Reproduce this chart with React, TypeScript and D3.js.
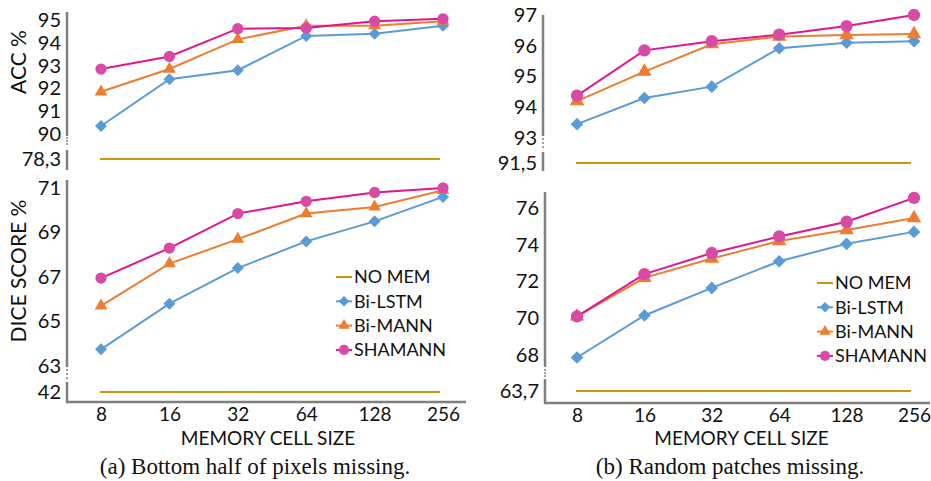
import React, { useEffect, useRef } from 'react';
import * as d3 from 'd3';

const memorySizes = ['8', '16', '32', '64', '128', '256'];
const seriesNames = ['NO MEM', 'Bi-LSTM', 'Bi-MANN', 'SHAMANN'];

// (a) bottom half of pixels missing
const accBottomNoMem = 78.3;
const accBottomLstm = [90.35, 92.4, 92.8, 94.3, 94.4, 94.75];
const accBottomMann = [91.85, 92.85, 94.15, 94.75, 94.75, 94.95];
const accBottomShamann = [92.85, 93.4, 94.62, 94.65, 94.95, 95.05];
const accBottomTicks = [78.3, 90, 91, 92, 93, 94, 95];

const diceBottomNoMem = 42;
const diceBottomLstm = [63.75, 65.8, 67.4, 68.6, 69.5, 70.6];
const diceBottomMann = [65.7, 67.6, 68.7, 69.85, 70.15, 70.9];
const diceBottomShamann = [66.95, 68.3, 69.85, 70.4, 70.8, 71.0];
const diceBottomTicks = [42, 63, 65, 67, 69, 71];

// (b) random patches missing
const accRandomNoMem = 91.5;
const accRandomLstm = [93.45, 94.3, 94.67, 95.92, 96.1, 96.15];
const accRandomMann = [94.2, 95.16, 96.05, 96.3, 96.35, 96.38];
const accRandomShamann = [94.38, 95.85, 96.15, 96.36, 96.64, 97.0];
const accRandomTicks = [91.5, 93, 94, 95, 96, 97];

const diceRandomNoMem = 63.7;
const diceRandomLstm = [67.7, 70.15, 71.65, 73.1, 74.05, 74.7];
const diceRandomMann = [70.1, 72.2, 73.25, 74.2, 74.8, 75.45];
const diceRandomShamann = [70.1, 72.4, 73.55, 74.45, 75.25, 76.55];
const diceRandomTicks = [63.7, 68, 70, 72, 74, 76];

const COLORS = {
  noMem: '#c9970a',
  lstm: '#5b9bd5',
  mann: '#ed7d31',
  shamannLine: '#e0168c',
  shamannDot: '#d94aa5',
  axis: '#7f7f7f',
};
const FONT = 'Lato, "Open Sans", sans-serif';

const panels = [
  {
    noMem: accBottomNoMem, lstm: accBottomLstm, mann: accBottomMann, shamann: accBottomShamann,
    ticks: accBottomTicks, yDomain: [78.3, 90, 95], yRange: [159, 134, 20],
    xRange: [101, 443], axisX: 67, main: [12, 136], low: [150, 170], dots: [138, 141, 144],
    label: 'ACC %', labelY: 62, bottom: false, big: false,
  },
  {
    noMem: diceBottomNoMem, lstm: diceBottomLstm, mann: diceBottomMann, shamann: diceBottomShamann,
    ticks: diceBottomTicks, yDomain: [42, 63, 71], yRange: [392, 366, 188],
    xRange: [101, 443], axisX: 67, main: [180, 367], low: [382, 402], dots: [370, 374, 378],
    label: 'DICE SCORE %', labelY: 271, bottom: true, xEnd: 466, legend: [336, 277], big: false,
  },
  {
    noMem: accRandomNoMem, lstm: accRandomLstm, mann: accRandomMann, shamann: accRandomShamann,
    ticks: accRandomTicks, yDomain: [91.5, 93, 97], yRange: [163, 138, 15],
    xRange: [577, 914], axisX: 543, main: [15, 136], low: [152, 171], dots: [139, 143, 147],
    label: null, bottom: false, big: true,
  },
  {
    noMem: diceRandomNoMem, lstm: diceRandomLstm, mann: diceRandomMann, shamann: diceRandomShamann,
    ticks: diceRandomTicks, yDomain: [63.7, 68, 76], yRange: [391, 355, 208],
    xRange: [577, 914], axisX: 545, main: [192, 367], low: [379, 403], dots: [370, 373, 376],
    label: null, bottom: true, xEnd: 930, legend: [817, 283], big: true,
  },
];

const fmt = d3.formatLocale({ decimal: ',', thousands: '.', grouping: [3], currency: ['', ''] }).format('.1~f');

const App = () => {
  const svgRef = useRef<SVGSVGElement | null>(null);

  useEffect(() => {
    const svg = d3.select(svgRef.current);
    svg.selectAll('*').remove();
    svg.append('rect').attr('width', 931).attr('height', 481).attr('fill', 'white');

    const diamond = (s: number) => d3.symbol().type(d3.symbolSquare).size(s)();
    const tri = (s: number) => d3.symbol().type(d3.symbolTriangle).size(s)();
    const circ = (s: number) => d3.symbol().type(d3.symbolCircle).size(s)();

    panels.forEach((p) => {
      const g = svg.append('g');
      const x = d3.scalePoint().domain(memorySizes).range(p.xRange as [number, number]);
      const y = d3.scaleLinear().domain(p.yDomain).range(p.yRange);
      const mk = p.big ? { d: 80, t: 90, c: 120 } : { d: 72, t: 70, c: 100 };

      // y tick labels
      const ya = g.append('g')
        .attr('transform', `translate(${p.axisX},0)`)
        .call(d3.axisLeft(y).tickValues(p.ticks).tickFormat((d) => fmt(+d)).tickSize(0).tickPadding(6));
      ya.select('.domain').remove();
      ya.selectAll('text').attr('font-family', FONT).attr('font-size', 20).attr('fill', '#111');

      // broken y axis line
      const seg = d3.line();
      g.append('path').attr('d', seg([[p.axisX, p.main[0]], [p.axisX, p.main[1]]]))
        .attr('stroke', COLORS.axis).attr('stroke-width', 2.5).attr('fill', 'none');
      p.dots.forEach((dy) => {
        g.append('path').attr('d', seg([[p.axisX, dy - 1], [p.axisX, dy + 1]]))
          .attr('stroke', '#a0a0a0').attr('stroke-width', 2).attr('fill', 'none');
      });
      const lowPts: [number, number][] = p.bottom
        ? [[p.axisX, p.low[0]], [p.axisX, p.low[1]], [p.xEnd as number, p.low[1]]]
        : [[p.axisX, p.low[0]], [p.axisX, p.low[1]]];
      g.append('path').attr('d', seg(lowPts))
        .attr('stroke', COLORS.axis).attr('stroke-width', 2.5).attr('fill', 'none');

      // NO MEM baseline
      g.append('path')
        .attr('d', seg([[x('8') as number - 1, y(p.noMem)], [x('256') as number - 3, y(p.noMem)]]))
        .attr('stroke', COLORS.noMem).attr('stroke-width', 2).attr('fill', 'none');

      const series = [
        { vals: p.lstm, line: COLORS.lstm, dot: COLORS.lstm, shape: diamond(mk.d), rot: 45 },
        { vals: p.mann, line: COLORS.mann, dot: COLORS.mann, shape: tri(mk.t), rot: 0 },
        { vals: p.shamann, line: COLORS.shamannLine, dot: COLORS.shamannDot, shape: circ(mk.c), rot: 0 },
      ];
      const line = d3.line<number>().x((_, i) => x(memorySizes[i]) as number).y((v) => y(v));
      series.forEach((s) => {
        g.append('path').attr('d', line(s.vals)).attr('stroke', s.line).attr('stroke-width', 2).attr('fill', 'none');
        g.selectAll(null).data(s.vals).enter().append('path')
          .attr('d', s.shape)
          .attr('transform', (v, i) => `translate(${x(memorySizes[i])},${y(v)}) rotate(${s.rot})`)
          .attr('fill', s.dot);
      });

      if (p.label) {
        g.append('text')
          .attr('transform', `translate(26,${p.labelY}) rotate(-90)`)
          .attr('text-anchor', 'middle')
          .attr('font-family', FONT).attr('font-size', 21).attr('fill', '#111')
          .text(p.label);
      }

      if (p.bottom) {
        const xa = g.append('g')
          .attr('transform', `translate(0,${p.low[1]})`)
          .call(d3.axisBottom(x).tickSize(0).tickPadding(5));
        xa.select('.domain').remove();
        xa.selectAll('text').attr('font-family', FONT).attr('font-size', 19).attr('fill', '#111');

        const mid = (p.xRange[0] + p.xRange[1]) / 2 - 4;
        g.append('text').attr('x', mid).attr('y', 445).attr('text-anchor', 'middle')
          .attr('font-family', FONT).attr('font-size', 19).attr('fill', '#111')
          .text('MEMORY CELL SIZE');

        // legend
        const [lx, ly] = p.legend as [number, number];
        const lmk = { d: 56, t: 55, c: 80 };
        const shapes = [null, diamond(lmk.d), tri(lmk.t), circ(lmk.c)];
        const rots = [0, 45, 0, 0];
        const lineCols = [COLORS.noMem, COLORS.lstm, COLORS.mann, COLORS.shamannLine];
        const dotCols = [COLORS.noMem, COLORS.lstm, COLORS.mann, COLORS.shamannDot];
        seriesNames.forEach((name, i) => {
          const yy = ly + i * 24.3;
          g.append('path').attr('d', seg([[lx, yy], [lx + 16, yy]]))
            .attr('stroke', lineCols[i]).attr('stroke-width', 2).attr('fill', 'none');
          if (shapes[i]) {
            g.append('path').attr('d', shapes[i] as string)
              .attr('transform', `translate(${lx + 8},${yy}) rotate(${rots[i]})`)
              .attr('fill', dotCols[i]);
          }
          g.append('text').attr('x', lx + 18).attr('y', yy).attr('dy', '0.35em')
            .attr('font-family', FONT).attr('font-size', 18).attr('fill', '#111')
            .text(name);
        });
      }
    });

    // captions
    const caps = [
      { x: 255, text: '(a) Bottom half of pixels missing.' },
      { x: 730, text: '(b) Random patches missing.' },
    ];
    caps.forEach((c) => {
      svg.append('text').attr('x', c.x).attr('y', 474).attr('text-anchor', 'middle')
        .attr('font-family', '"Liberation Serif", serif').attr('font-size', 23).attr('fill', '#111')
        .text(c.text);
    });
  }, []);

  return (
    <svg ref={svgRef} width={931} height={481}
      style={{ position: 'absolute', left: 0, top: 0, display: 'block' }} />
  );
};

export default App;
